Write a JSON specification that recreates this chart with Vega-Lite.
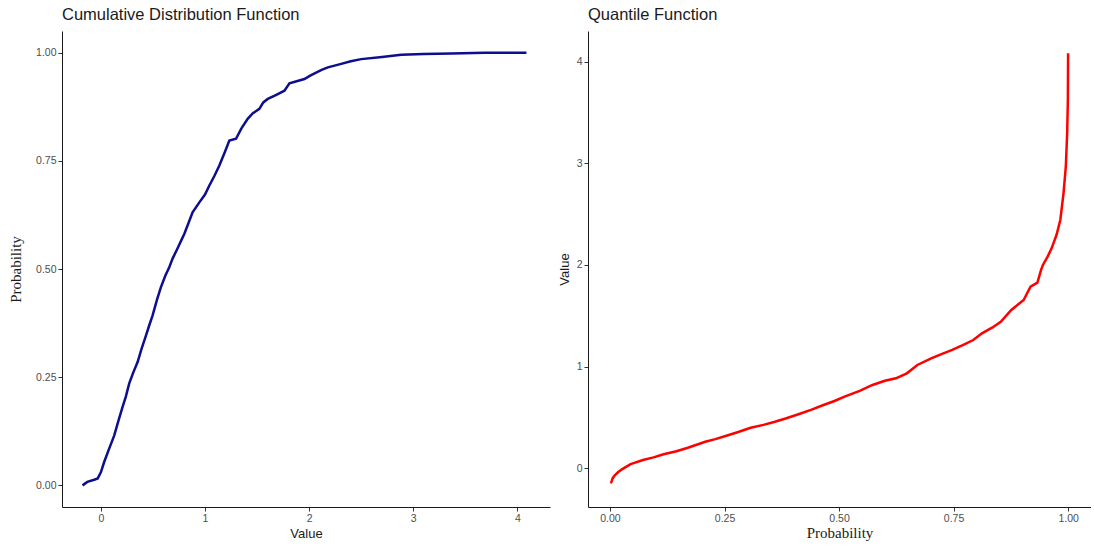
{
  "$schema": "https://vega.github.io/schema/vega-lite/v6.json",
  "padding": {"left": 8, "top": 6, "right": 0, "bottom": 0},
  "spacing": 8,
  "datasets": {
    "cdf": [
      {"value": -0.176, "prob": 0}, {"value": -0.13, "prob": 0.008}, {"value": -0.064, "prob": 0.013}, {"value": -0.03, "prob": 0.016},
      {"value": 0.0, "prob": 0.03}, {"value": 0.032, "prob": 0.054}, {"value": 0.08, "prob": 0.085}, {"value": 0.128, "prob": 0.115},
      {"value": 0.17, "prob": 0.15}, {"value": 0.208, "prob": 0.181}, {"value": 0.24, "prob": 0.205}, {"value": 0.272, "prob": 0.235},
      {"value": 0.31, "prob": 0.26}, {"value": 0.353, "prob": 0.285}, {"value": 0.39, "prob": 0.315}, {"value": 0.433, "prob": 0.346},
      {"value": 0.465, "prob": 0.37}, {"value": 0.497, "prob": 0.393}, {"value": 0.54, "prob": 0.43}, {"value": 0.577, "prob": 0.458},
      {"value": 0.62, "prob": 0.485}, {"value": 0.657, "prob": 0.504}, {"value": 0.689, "prob": 0.524}, {"value": 0.737, "prob": 0.548},
      {"value": 0.77, "prob": 0.565}, {"value": 0.801, "prob": 0.581}, {"value": 0.84, "prob": 0.605}, {"value": 0.881, "prob": 0.631},
      {"value": 0.946, "prob": 0.654}, {"value": 1.0, "prob": 0.672}, {"value": 1.042, "prob": 0.693}, {"value": 1.09, "prob": 0.715},
      {"value": 1.138, "prob": 0.739}, {"value": 1.19, "prob": 0.77}, {"value": 1.234, "prob": 0.797}, {"value": 1.298, "prob": 0.801},
      {"value": 1.35, "prob": 0.825}, {"value": 1.41, "prob": 0.847}, {"value": 1.46, "prob": 0.86}, {"value": 1.522, "prob": 0.87},
      {"value": 1.56, "prob": 0.885}, {"value": 1.603, "prob": 0.893}, {"value": 1.68, "prob": 0.902}, {"value": 1.763, "prob": 0.912},
      {"value": 1.811, "prob": 0.929}, {"value": 1.88, "prob": 0.934}, {"value": 1.955, "prob": 0.939}, {"value": 2.01, "prob": 0.947},
      {"value": 2.067, "prob": 0.954}, {"value": 2.12, "prob": 0.96}, {"value": 2.18, "prob": 0.966}, {"value": 2.244, "prob": 0.97},
      {"value": 2.308, "prob": 0.974}, {"value": 2.4, "prob": 0.98}, {"value": 2.5, "prob": 0.985}, {"value": 2.7, "prob": 0.99},
      {"value": 2.885, "prob": 0.995}, {"value": 3.1, "prob": 0.997}, {"value": 3.365, "prob": 0.998}, {"value": 3.686, "prob": 1.0},
      {"value": 4.087, "prob": 1.0}
    ],
    "quantile": [
      {"prob": 0.002, "value": -0.151}, {"prob": 0.006, "value": -0.1}, {"prob": 0.011, "value": -0.069}, {"prob": 0.018, "value": -0.04},
      {"prob": 0.026, "value": -0.013}, {"prob": 0.045, "value": 0.039}, {"prob": 0.072, "value": 0.079}, {"prob": 0.095, "value": 0.105},
      {"prob": 0.117, "value": 0.135}, {"prob": 0.145, "value": 0.165}, {"prob": 0.17, "value": 0.2}, {"prob": 0.208, "value": 0.259},
      {"prob": 0.23, "value": 0.285}, {"prob": 0.254, "value": 0.318}, {"prob": 0.28, "value": 0.355}, {"prob": 0.307, "value": 0.397},
      {"prob": 0.335, "value": 0.425}, {"prob": 0.36, "value": 0.456}, {"prob": 0.385, "value": 0.49}, {"prob": 0.413, "value": 0.532},
      {"prob": 0.44, "value": 0.575}, {"prob": 0.466, "value": 0.621}, {"prob": 0.49, "value": 0.66}, {"prob": 0.512, "value": 0.703},
      {"prob": 0.545, "value": 0.76}, {"prob": 0.573, "value": 0.818}, {"prob": 0.6, "value": 0.86}, {"prob": 0.624, "value": 0.884},
      {"prob": 0.648, "value": 0.933}, {"prob": 0.671, "value": 1.015}, {"prob": 0.701, "value": 1.081}, {"prob": 0.725, "value": 1.125},
      {"prob": 0.747, "value": 1.163}, {"prob": 0.77, "value": 1.21}, {"prob": 0.793, "value": 1.261}, {"prob": 0.812, "value": 1.327},
      {"prob": 0.835, "value": 1.385}, {"prob": 0.853, "value": 1.441}, {"prob": 0.876, "value": 1.557}, {"prob": 0.903, "value": 1.655},
      {"prob": 0.918, "value": 1.786}, {"prob": 0.933, "value": 1.826}, {"prob": 0.941, "value": 1.951}, {"prob": 0.945, "value": 2.0},
      {"prob": 0.955, "value": 2.08}, {"prob": 0.964, "value": 2.164}, {"prob": 0.975, "value": 2.3}, {"prob": 0.983, "value": 2.443},
      {"prob": 0.99, "value": 2.706}, {"prob": 0.995, "value": 2.968}, {"prob": 0.998, "value": 3.3}, {"prob": 0.9995, "value": 3.626},
      {"prob": 1.0, "value": 4.086}
    ]
  },
  "hconcat": [
    {
      "width": 488,
      "height": 476,
      "title": {"text": "Cumulative Distribution Function"},
      "data": {"name": "cdf"},
      "mark": {"type": "line", "color": "#0d0d8f", "strokeWidth": 2.5},
      "encoding": {
        "x": {
          "field": "value", "type": "quantitative",
          "scale": {"domain": [-0.373, 4.313], "nice": false, "zero": false},
          "axis": {"title": "Value", "values": [0, 1, 2, 3, 4], "format": "d", "titleFont": "Liberation Sans", "titleFontSize": 13, "titlePadding": 4}
        },
        "y": {
          "field": "prob", "type": "quantitative",
          "scale": {"domain": [-0.05, 1.05], "nice": false, "zero": false},
          "axis": {"title": "Probability", "values": [0, 0.25, 0.5, 0.75, 1], "format": ".2f", "titleFont": "Liberation Serif", "titleFontSize": 15, "titlePadding": 12}
        }
      }
    },
    {
      "width": 503,
      "height": 476,
      "title": {"text": "Quantile Function"},
      "data": {"name": "quantile"},
      "mark": {"type": "line", "color": "#FF0000", "strokeWidth": 2.5},
      "encoding": {
        "x": {
          "field": "prob", "type": "quantitative",
          "scale": {"domain": [-0.048, 1.05], "nice": false, "zero": false},
          "axis": {"title": "Probability", "values": [0, 0.25, 0.5, 0.75, 1], "format": ".2f", "titleFont": "Liberation Serif", "titleFontSize": 15, "titlePadding": 2}
        },
        "y": {
          "field": "value", "type": "quantitative",
          "scale": {"domain": [-0.384, 4.305], "nice": false, "zero": false},
          "axis": {"title": "Value", "values": [0, 1, 2, 3, 4], "format": "d", "titleFont": "Liberation Sans", "titleFontSize": 13, "titlePadding": 5}
        }
      }
    }
  ],
  "config": {
    "view": {"stroke": null},
    "title": {"anchor": "start", "frame": "group", "fontSize": 16.5, "fontWeight": "normal", "font": "Liberation Sans", "color": "#1a1a1a", "offset": 8},
    "axis": {
      "grid": false,
      "domainColor": "#1a1a1a",
      "domainWidth": 1,
      "tickColor": "#333333",
      "tickSize": 4,
      "labelFont": "Liberation Sans",
      "labelFontSize": 10.5,
      "labelColor": "#4d4d4d",
      "labelPadding": 2,
      "titleFontWeight": "normal",
      "titleColor": "#1a1a1a"
    }
  }
}
